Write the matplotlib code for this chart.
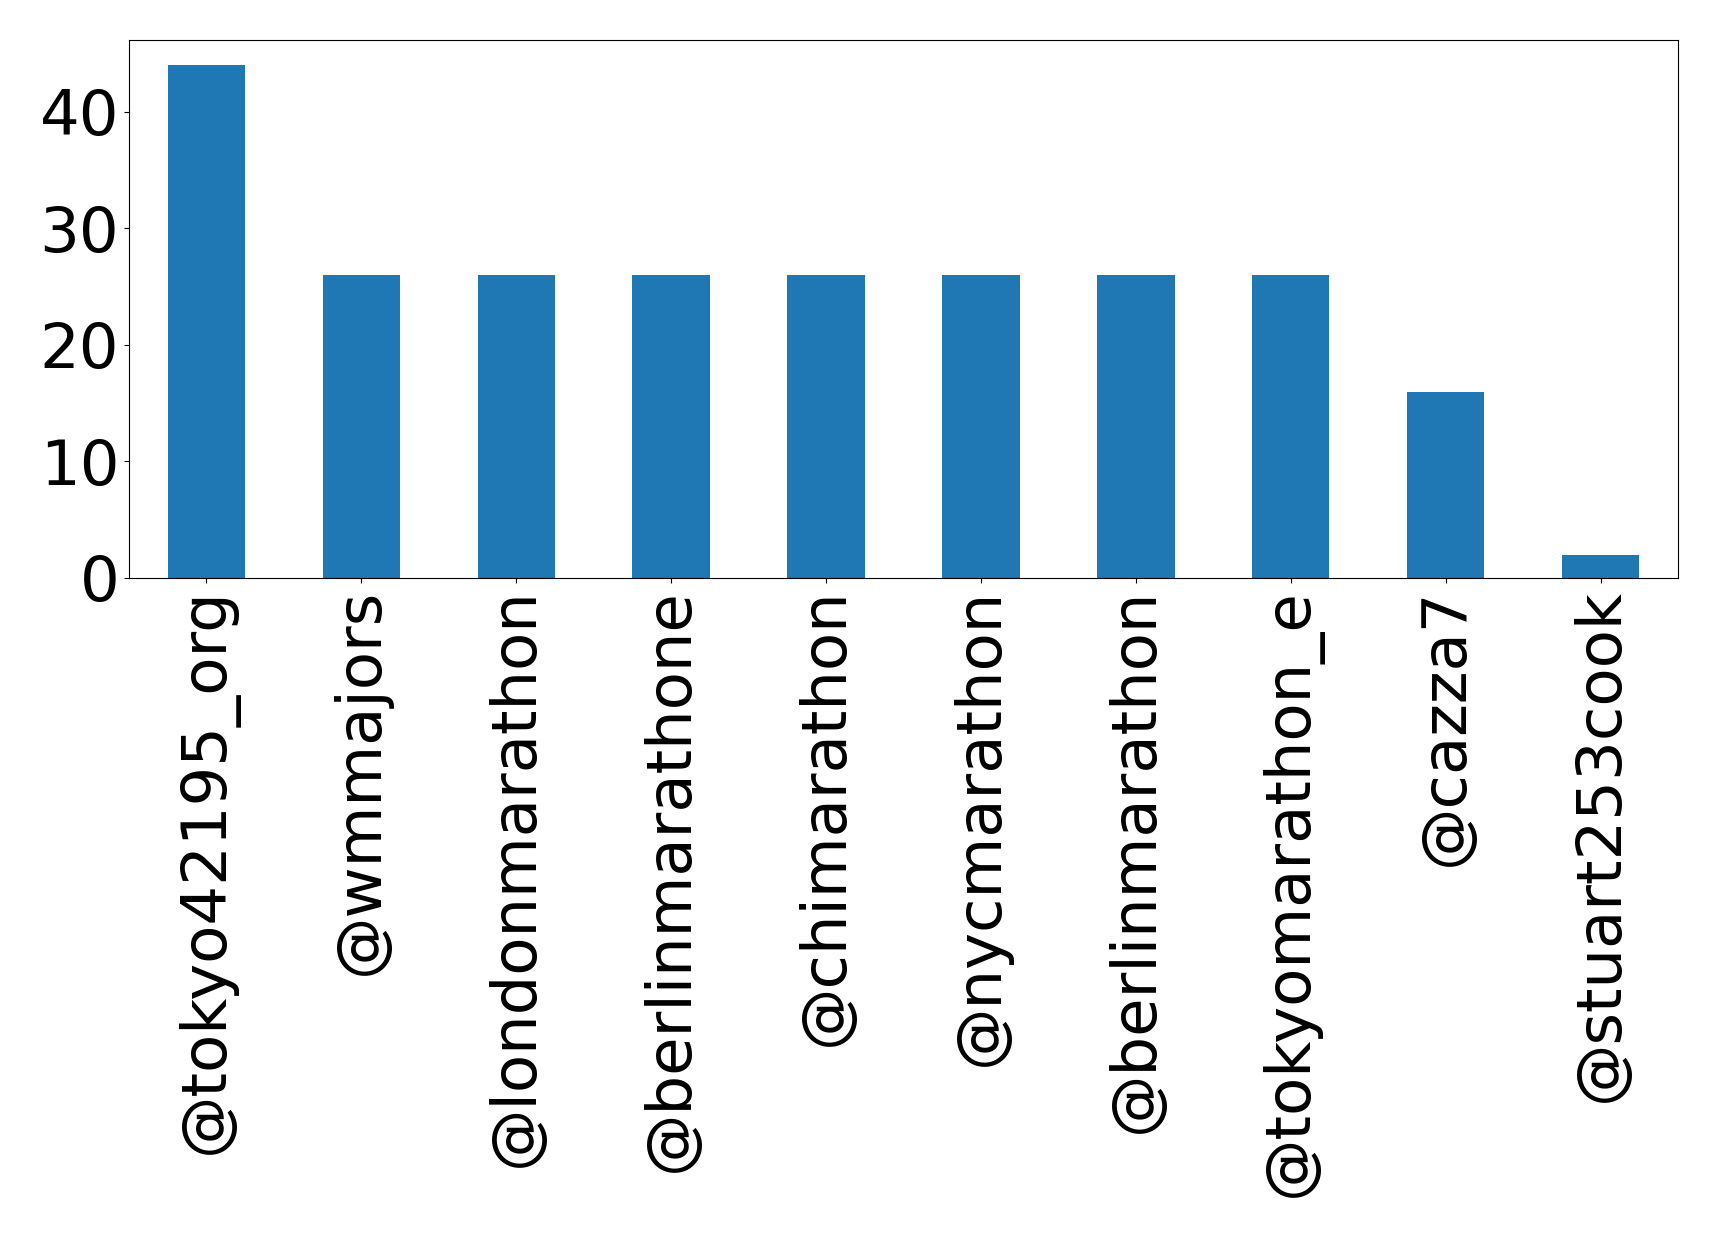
import matplotlib
matplotlib.use("Agg")
import matplotlib.pyplot as plt

accounts = ["@tokyo42195_org", "@wmmajors", "@londonmarathon", "@berlinmarathone",
            "@chimarathon", "@nycmarathon", "@berlinmarathon", "@tokyomarathon_e",
            "@cazza7", "@stuart253cook"]
counts = [44, 26, 26, 26, 26, 26, 26, 26, 16, 2]

fig = plt.figure(figsize=(17.19, 12.37), dpi=100)
ax = fig.add_axes([129/1719, 1 - 578/1237, (1678-129)/1719, (578-39.5)/1237])
x = range(len(accounts))
ax.bar(x, counts, width=0.5, color="#1f77b4")
ax.set_xlim(-0.5, len(accounts) - 0.5)
ax.set_ylim(0, max(counts) * 1.05)
ax.set_xticks(list(x))
ax.set_xticklabels(accounts, rotation=90, fontsize=45)
ax.set_yticks([0, 10, 20, 30, 40])
ax.tick_params(axis="y", labelsize=45)
fig.savefig("out.png", dpi=100)
